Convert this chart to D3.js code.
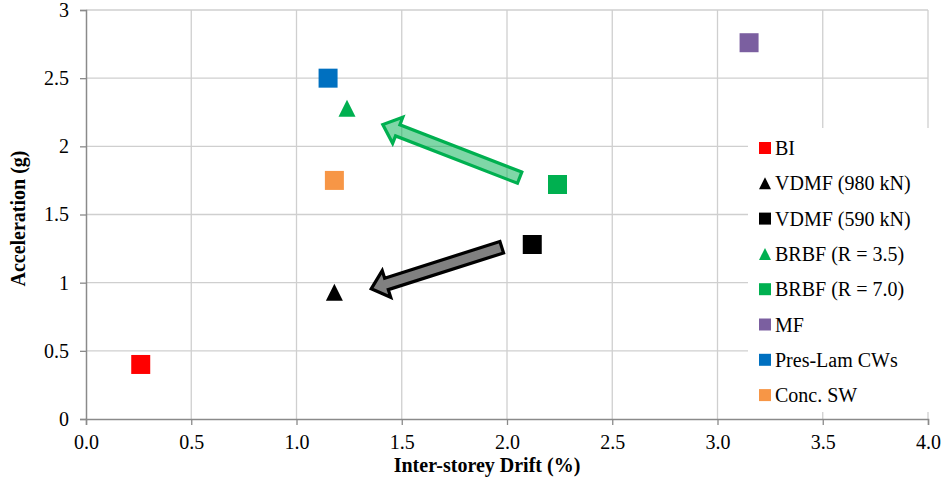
<!DOCTYPE html>
<html>
<head>
<meta charset="utf-8">
<script src="https://cdn.jsdelivr.net/npm/d3@7"></script>
<style>
  html, body { margin: 0; padding: 0; background: #fff; }
  svg { display: block; }
  svg text { font-family: "Liberation Serif", "Times New Roman", Tinos, "Noto Serif", "DejaVu Serif", FreeSerif, "Nimbus Roman", Times, serif !important; }
</style>
</head>
<body>
<svg id="chart" width="948" height="492"></svg>
<script>
// Series: name, drift (%), acceleration (g)
const seriesNames = ["BI", "VDMF (980 kN)", "VDMF (590 kN)", "BRBF (R = 3.5)", "BRBF (R = 7.0)", "MF", "Pres-Lam CWs", "Conc. SW"];
const driftValues = [0.26, 1.18, 2.12, 1.24, 2.24, 3.15, 1.15, 1.18];
const accelValues = [0.40, 0.93, 1.28, 2.28, 1.72, 2.76, 2.50, 1.75];
const markerShapes = ["square", "triangle", "square", "triangle", "square", "square", "square", "square"];
const seriesColors = ["#ff0000", "#000000", "#000000", "#00b050", "#00b050", "#7b5fa0", "#0070c0", "#f79646"];

// Axis ticks
const xTicks = [0, 0.5, 1.0, 1.5, 2.0, 2.5, 3.0, 3.5, 4.0];
const yTicks = [0, 0.5, 1, 1.5, 2, 2.5, 3];

// Annotation arrows in data units: [drift, accel] from tail to tip
const arrowTails = [[2.06, 1.77], [1.975, 1.26]];
const arrowTips = [[1.41, 2.16], [1.355, 0.955]];
const arrowFills = ["rgba(0,176,80,0.5)", "#808080"];
const arrowStrokes = ["#00b050", "#000000"];

const svg = d3.select("#chart");
const plotL = 86, plotR = 928, plotT = 10, plotB = 419;

const x = d3.scaleLinear().domain([0, 4]).range([plotL, plotR]);
const y = d3.scaleLinear().domain([0, 3]).range([plotB, plotT]);

// Gridlines
const grid = svg.append("g");
grid.selectAll("line.v").data(xTicks.slice(1)).join("line")
  .attr("x1", d => x(d)).attr("x2", d => x(d))
  .attr("y1", plotT).attr("y2", plotB)
  .attr("stroke", "#cfcfcf").attr("stroke-width", 1.3);
grid.selectAll("line.h").data(yTicks.slice(1)).join("line")
  .attr("x1", plotL).attr("x2", plotR)
  .attr("y1", d => y(d)).attr("y2", d => y(d))
  .attr("stroke", "#cfcfcf").attr("stroke-width", 1.3);

// Axes
const xAxis = svg.append("g").attr("transform", `translate(0,${plotB})`)
  .call(d3.axisBottom(x).tickValues(xTicks).tickFormat(d3.format(".1f")).tickSizeOuter(0).tickSize(6).tickPadding(10));
const yAxis = svg.append("g").attr("transform", `translate(${plotL},0)`)
  .call(d3.axisLeft(y).tickValues(yTicks).tickFormat(d => String(d)).tickSizeOuter(0).tickSize(6).tickPadding(11));
[xAxis, yAxis].forEach(a => {
  a.selectAll(".domain").attr("stroke", "#8a8a8a").attr("stroke-width", 1.5);
  a.selectAll(".tick line").attr("stroke", "#8a8a8a").attr("stroke-width", 1.3);
  a.selectAll("text").attr("font-size", 20).attr("fill", "#000");
});

// Axis titles
svg.append("text")
  .attr("x", 487).attr("y", 472)
  .attr("text-anchor", "middle")
  .attr("font-weight", "bold").attr("font-size", 20)
  .text("Inter-storey Drift (%)");
svg.append("text")
  .attr("transform", `translate(25,${(plotT + plotB) / 2 + 4}) rotate(-90)`)
  .attr("text-anchor", "middle")
  .attr("font-weight", "bold").attr("font-size", 20)
  .text("Acceleration (g)");

// Arrow outline built from tail/tip in pixel space
function arrowPath(tail, tip, shaft, headW, headL) {
  const x0 = x(tail[0]), y0 = y(tail[1]), x1 = x(tip[0]), y1 = y(tip[1]);
  const dx = x1 - x0, dy = y1 - y0, len = Math.hypot(dx, dy);
  const ux = dx / len, uy = dy / len, nx = -uy, ny = ux;
  const bx = x1 - ux * headL, by = y1 - uy * headL;
  const pts = [
    [x0 + nx * shaft / 2, y0 + ny * shaft / 2],
    [bx + nx * shaft / 2, by + ny * shaft / 2],
    [bx + nx * headW / 2, by + ny * headW / 2],
    [x1, y1],
    [bx - nx * headW / 2, by - ny * headW / 2],
    [bx - nx * shaft / 2, by - ny * shaft / 2],
    [x0 - nx * shaft / 2, y0 - ny * shaft / 2]
  ];
  return "M" + pts.map(p => p.join(",")).join("L") + "Z";
}
svg.append("g").selectAll("path").data(arrowTails).join("path")
  .attr("d", (d, i) => arrowPath(d, arrowTips[i], 12, 28, 16))
  .attr("fill", (d, i) => arrowFills[i])
  .attr("stroke", (d, i) => arrowStrokes[i])
  .attr("stroke-width", 3.2)
  .attr("stroke-linejoin", "miter");

// Markers
function markerPath(shape, size) {
  if (shape === "triangle") {
    const h = size, w = size;
    return `M0,${-h / 2}L${w / 2},${h / 2}L${-w / 2},${h / 2}Z`;
  }
  return `M${-size / 2},${-size / 2}h${size}v${size}h${-size}Z`;
}
const points = seriesNames.map((n, i) => ({ name: n, drift: driftValues[i], accel: accelValues[i], shape: markerShapes[i], color: seriesColors[i] }));
svg.append("g").selectAll("path").data(points).join("path")
  .attr("transform", d => `translate(${x(d.drift)},${y(d.accel)})`)
  .attr("d", d => markerPath(d.shape, d.shape === "triangle" ? 17 : 19))
  .attr("fill", d => d.color);

// Legend
const legend = svg.append("g");
legend.append("rect").attr("x", 748).attr("y", 128).attr("width", 200).attr("height", 284).attr("fill", "#fff");
const item = legend.selectAll("g.item").data(points).join("g")
  .attr("transform", (d, i) => `translate(765,${148 + i * 35.3})`);
item.append("path")
  .attr("d", d => markerPath(d.shape, 12))
  .attr("fill", d => d.color);
item.append("text")
  .attr("x", 10).attr("y", 7)
  .attr("font-size", 20)
  .text(d => d.name);
</script>
</body>
</html>
